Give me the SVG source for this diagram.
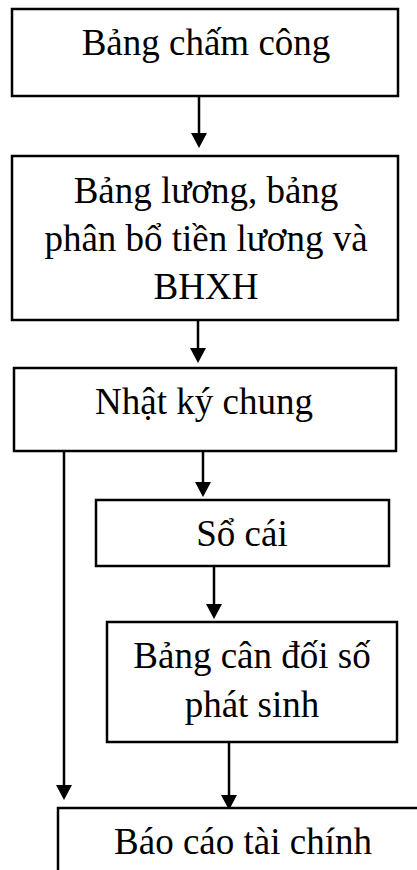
<svg xmlns="http://www.w3.org/2000/svg" width="417" height="870" viewBox="0 0 417 870">
  <style>
    .box { fill: #fff; stroke: #000; stroke-width: 2.5; }
    .lbl { font-family: "Liberation Serif", "Times New Roman", serif; font-size: 37px; fill: #000; text-anchor: middle; }
    .wire { fill: none; stroke: #000; stroke-width: 2.5; }
    .head { fill: #000; }
  </style>
  <rect width="417" height="870" fill="#fff"/>

  <!-- arrows: shaft plus a filled triangular head -->
  <g id="connectors">
    <line class="wire" x1="199" y1="96" x2="199" y2="133"/>
    <path class="head" d="M191,133 L207,133 L199,148 Z"/>
    <line class="wire" x1="198" y1="320" x2="198" y2="348"/>
    <path class="head" d="M190,348 L206,348 L198,363 Z"/>
    <line class="wire" x1="203" y1="447" x2="203" y2="482"/>
    <path class="head" d="M195,482 L211,482 L203,497 Z"/>
    <line class="wire" x1="214" y1="566" x2="214" y2="604"/>
    <path class="head" d="M206,604 L222,604 L214,619 Z"/>
    <line class="wire" x1="229" y1="742" x2="229" y2="795"/>
    <path class="head" d="M221,795 L237,795 L229,810 Z"/>
    <line class="wire" x1="64" y1="451" x2="64" y2="785"/>
    <path class="head" d="M56,785 L72,785 L64,800 Z"/>
  </g>

  <g id="bang-cham-cong">
    <rect class="box" x="12" y="9" width="386" height="87"/>
    <text class="lbl" x="206" y="55">Bảng chấm công</text>
  </g>

  <g id="bang-luong">
    <rect class="box" x="12" y="156" width="386" height="164"/>
    <text class="lbl" x="206" y="203">Bảng lương, bảng</text>
    <text class="lbl" x="206" y="251">phân bổ tiền lương và</text>
    <text class="lbl" x="206" y="299">BHXH</text>
  </g>

  <g id="nhat-ky-chung">
    <rect class="box" x="14" y="368" width="382" height="83"/>
    <text class="lbl" x="204" y="414">Nhật ký chung</text>
  </g>

  <g id="so-cai">
    <rect class="box" x="96" y="500" width="293" height="66"/>
    <text class="lbl" x="242" y="546">Sổ cái</text>
  </g>

  <g id="bang-can-doi">
    <rect class="box" x="107" y="622" width="290" height="120"/>
    <text class="lbl" x="252" y="668">Bảng cân đối số</text>
    <text class="lbl" x="252" y="717">phát sinh</text>
  </g>

  <g id="bao-cao-tai-chinh">
    <rect class="box" x="58" y="808" width="380" height="80"/>
    <text class="lbl" x="243" y="854">Báo cáo tài chính</text>
  </g>
</svg>
